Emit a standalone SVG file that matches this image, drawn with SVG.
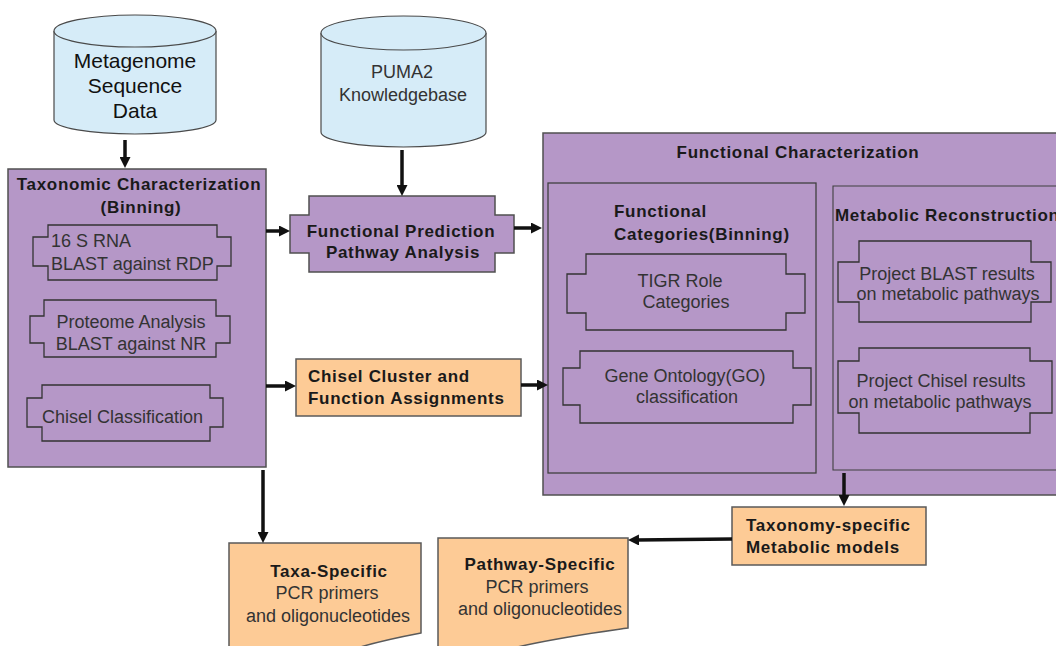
<svg xmlns="http://www.w3.org/2000/svg" width="1056" height="646" viewBox="0 0 1056 646">
<defs>
<style>
.cyl{fill:#d6ecf8;stroke:#4a4a4a;stroke-width:1.2}
.pur{fill:#b597c7;stroke:#505050;stroke-width:1.5}
.sub{fill:#b597c7;stroke:#333;stroke-width:1.3}
.inner{fill:none;stroke:#404040;stroke-width:1.3}
.org{fill:#fdcb96;stroke:#5a5a5a;stroke-width:1.5}
.b{font-family:"Liberation Sans",Arial,sans-serif;font-weight:bold;font-size:17px;letter-spacing:0.7px;fill:#1a1a1a}
.r{font-family:"Liberation Sans",Arial,sans-serif;font-size:18px;fill:#333}
.big{font-family:"Liberation Sans",Arial,sans-serif;font-size:21px;fill:#111}
.m{text-anchor:middle}
.arr{stroke:#111;stroke-width:3.5;fill:none;marker-end:url(#ah)}
</style>
<marker id="ah" viewBox="0 0 11 11" markerWidth="11" markerHeight="11" refX="3" refY="5.5" orient="auto" markerUnits="userSpaceOnUse">
<path d="M0,0 L11,5.5 L0,11 z" fill="#111"/>
</marker>
</defs>
<rect width="1056" height="646" fill="#fff"/>

<g id="metagenome">
<path class="cyl" d="M54,31 V120 A81,14 0 0 0 216,120 V31 A81,16 0 0 0 54,31 Z"/>
<path class="cyl" d="M54,31 A81,16 0 0 0 216,31" fill="none"/>
<text class="big m" x="135" y="68">Metagenome</text>
<text class="big m" x="135" y="93">Sequence</text>
<text class="big m" x="135" y="118">Data</text>
</g>

<g id="puma2">
<path class="cyl" d="M321,33 V132 A82.5,15 0 0 0 486,132 V33 A82.5,17 0 0 0 321,33 Z"/>
<path class="cyl" d="M321,33 A82.5,17 0 0 0 486,33" fill="none"/>
<text class="r m" x="402" y="78">PUMA2</text>
<text class="r m" x="403" y="101">Knowledgebase</text>
</g>

<g id="taxonomic">
<rect class="pur" x="8" y="169" width="258" height="298"/>
<text class="b m" x="139" y="190">Taxonomic Characterization</text>
<text class="b m" x="141" y="213">(Binning)</text>
<g id="rna16s">
<path class="sub" d="M48,225 H217 V237 H231 V266 H217 V280 H48 V266 H33 V237 H48 Z"/>
<text class="r" x="51" y="247">16 S RNA</text>
<text class="r" x="51" y="270">BLAST against RDP</text>
</g>
<g id="proteome">
<path class="sub" d="M44,300 H216 V316 H230 V343 H216 V357 H44 V343 H30 V316 H44 Z"/>
<text class="r m" x="131" y="328">Proteome Analysis</text>
<text class="r m" x="131" y="350">BLAST against NR</text>
</g>
<g id="chiselclass">
<path class="sub" d="M42,385 H210 V398 H223 V427 H210 V441 H42 V427 H27 V398 H42 Z"/>
<text class="r" x="42" y="423">Chisel Classification</text>
</g>
</g>

<g id="funcpred">
<path class="pur" d="M309,196 H495 V215 H514 V253 H495 V272 H309 V253 H290 V215 H309 Z"/>
<text class="b m" x="401" y="237">Functional Prediction</text>
<text class="b m" x="403" y="258">Pathway Analysis</text>
</g>

<g id="chiselcluster">
<rect class="org" x="296" y="359" width="225" height="57"/>
<text class="b" x="308" y="382">Chisel Cluster and</text>
<text class="b" x="308" y="404">Function Assignments</text>
</g>

<g id="funcchar">
<rect class="pur" x="543" y="133" width="530" height="362"/>
<text class="b m" x="798" y="158">Functional Characterization</text>
<g id="funccat">
<rect class="inner" x="548" y="183" width="268" height="290"/>
<text class="b" x="614" y="217">Functional</text>
<text class="b" x="614" y="240">Categories(Binning)</text>
<g id="tigr">
<path class="sub" d="M586,254 H786 V274 H805 V313 H786 V330 H586 V313 H567 V274 H586 Z"/>
<text class="r m" x="680" y="287">TIGR Role</text>
<text class="r m" x="686" y="308">Categories</text>
</g>
<g id="go">
<path class="sub" d="M580,351 H793 V368 H811 V405 H793 V423 H580 V405 H563 V368 H580 Z"/>
<text class="r m" x="685" y="382">Gene Ontology(GO)</text>
<text class="r m" x="687" y="403">classification</text>
</g>
</g>
<g id="metabolic">
<path d="M1060,186 H833 V470 H1060" fill="none" stroke="#404040" stroke-width="1.1"/>
<text class="b" x="835" y="221">Metabolic Reconstruction</text>
<g id="projblast">
<path class="sub" d="M859,241 H1031 V262 H1051 V302 H1031 V322 H859 V302 H838 V262 H859 Z"/>
<text class="r m" x="947" y="280">Project BLAST results</text>
<text class="r m" x="948" y="300">on metabolic pathways</text>
</g>
<g id="projchisel">
<path class="sub" d="M859,348 H1030 V361 H1052 V413 H1030 V433 H859 V413 H838 V361 H859 Z"/>
<text class="r m" x="941" y="387">Project Chisel results</text>
<text class="r m" x="940" y="408">on metabolic pathways</text>
</g>
</g>
</g>

<g id="taxmodels">
<rect class="org" x="732" y="507" width="194" height="58"/>
<text class="b" x="746" y="531">Taxonomy-specific</text>
<text class="b" x="746" y="553">Metabolic models</text>
</g>

<g id="taxaspecific">
<path class="org" d="M229,543 H421 V633 C400,637 380,641 357,648 C320,660 270,662 229,652 Z"/>
<text class="b m" x="329" y="577">Taxa-Specific</text>
<text class="r m" x="327" y="599">PCR primers</text>
<text class="r m" x="328" y="622">and oligonucleotides</text>
</g>

<g id="pathwayspecific">
<path class="org" d="M438,538 H628 V628 C600,632 560,637 513,648 C490,654 460,654 438,650 Z"/>
<text class="b m" x="540" y="570">Pathway-Specific</text>
<text class="r m" x="537" y="593">PCR primers</text>
<text class="r m" x="540" y="615">and oligonucleotides</text>
</g>

<g id="connectors">
<path class="arr" d="M125,140 V160"/>
<path class="arr" d="M402,150 V188"/>
<path class="arr" d="M266,231 H282"/>
<path class="arr" d="M514,228 H534"/>
<path class="arr" d="M266,386 H288"/>
<path class="arr" d="M521,385 H540"/>
<path class="arr" d="M263,470 V535"/>
<path class="arr" d="M844,473 V498"/>
<path class="arr" d="M732,539 L636,540"/>
</g>
</svg>
